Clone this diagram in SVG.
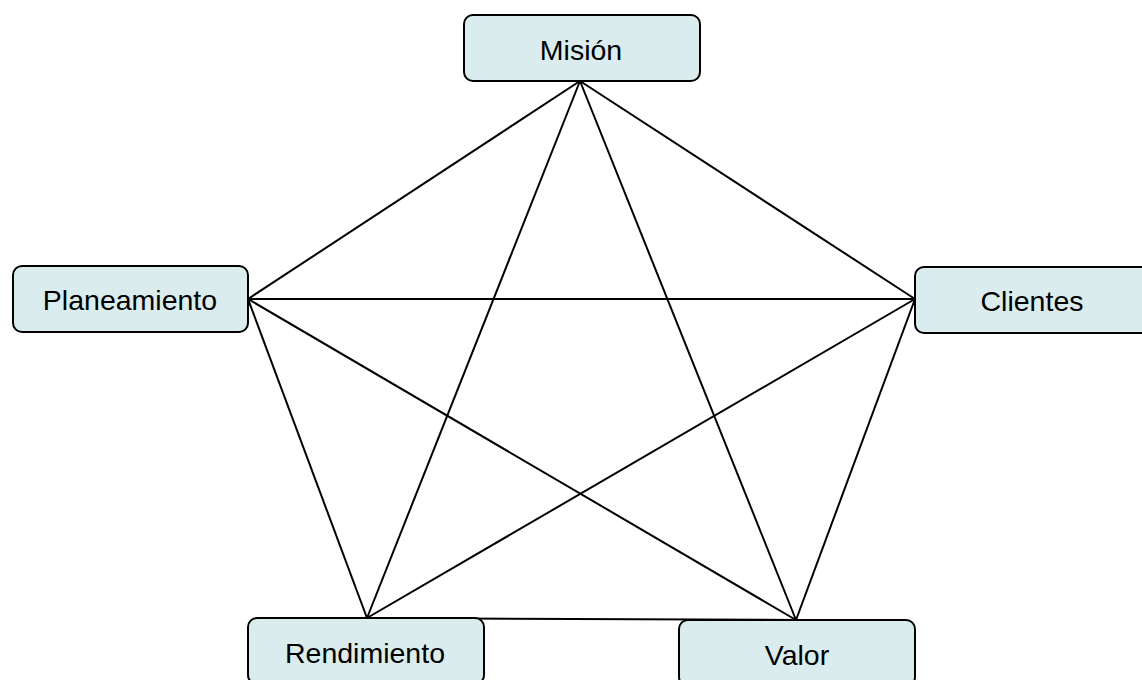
<svg xmlns="http://www.w3.org/2000/svg" width="1142" height="680" viewBox="0 0 1142 680">
  <style>
    .box { fill: #daecee; stroke: #000; stroke-width: 2; }
    .label { font-family: "Liberation Sans", Arial, sans-serif; font-size: 28.5px; fill: #000; text-anchor: middle; }
    .link { stroke: #000; stroke-width: 2; fill: none; }
  </style>
  <rect width="1142" height="680" fill="#fff"/>

  <!-- connectors: every pair of nodes is joined -->
  <g id="connectors">
    <line class="link" x1="580" y1="81" x2="248" y2="299"/>
    <line class="link" x1="580" y1="81" x2="915" y2="299"/>
    <line class="link" x1="580" y1="81" x2="367" y2="618"/>
    <line class="link" x1="580" y1="81" x2="796" y2="620"/>
    <line class="link" x1="248" y1="299" x2="915" y2="299"/>
    <line class="link" x1="248" y1="299" x2="367" y2="618"/>
    <line class="link" x1="248" y1="299" x2="796" y2="620"/>
    <line class="link" x1="915" y1="299" x2="367" y2="618"/>
    <line class="link" x1="915" y1="299" x2="796" y2="620"/>
    <line class="link" x1="367" y1="618" x2="796" y2="620"/>
  </g>

  <g id="mision">
    <rect class="box" x="464" y="15" width="236" height="66" rx="9"/>
    <text class="label" x="581" y="60">Misión</text>
  </g>

  <g id="planeamiento">
    <rect class="box" x="13" y="266" width="235" height="66" rx="9"/>
    <text class="label" x="130" y="310">Planeamiento</text>
  </g>

  <g id="clientes">
    <rect class="box" x="915" y="267" width="236" height="66" rx="9"/>
    <text class="label" x="1032" y="311">Clientes</text>
  </g>

  <g id="rendimiento">
    <rect class="box" x="248" y="618" width="236" height="66" rx="9"/>
    <text class="label" x="365" y="663">Rendimiento</text>
  </g>

  <g id="valor">
    <rect class="box" x="679" y="620" width="236" height="66" rx="9"/>
    <text class="label" x="797" y="665">Valor</text>
  </g>
</svg>
